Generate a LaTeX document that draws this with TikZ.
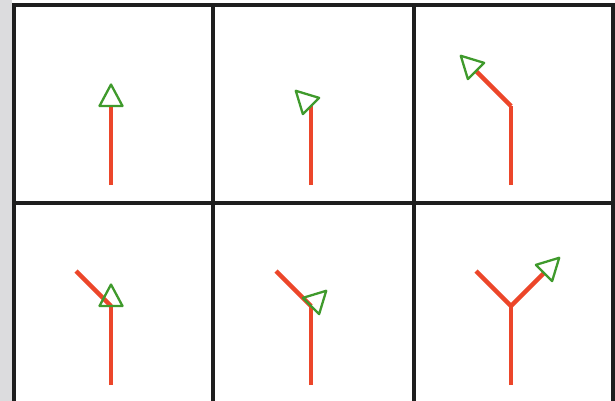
\documentclass[tikz,border=0pt]{standalone}
\usepackage{tikz}
\usetikzlibrary{calc}
\definecolor{trailred}{HTML}{EC462A}
\definecolor{turtlegreen}{HTML}{3F9A2C}
\definecolor{gridink}{HTML}{1E1E1E}
\definecolor{scangray}{HTML}{DCDCDE}

\begin{document}
\begin{tikzpicture}[
      x=1pt,y=-1pt,
      grid/.style={draw=gridink,line width=3.2pt},
      stem/.style={draw=trailred,line width=3.2pt},
      limb/.style={draw=trailred,line width=4.4pt},
      turtle/.pic={\draw[turtlegreen,line width=2.3pt,line join=round] (-11.5,0)--(0,-21.5)--(11.5,0)--cycle;}
    ]
    \useasboundingbox (0,0) rectangle (615,401);
    \fill[white] (0,0) rectangle (615,401);
    \fill[scangray] (0,0) rectangle (12,401);
    % panel frame
    \draw[grid] (14,401)--(14,5)--(613,5)--(613,401);
    \draw[grid] (14,203)--(613,203);
    \draw[grid] (213,5)--(213,401);
    \draw[grid] (414,5)--(414,401);
    % stems
    \foreach \i/\x/\y in {1/111/185,2/311/185,3/511/185,4/111/385,5/311/385,6/511/385}{
      \coordinate (foot\i) at (\x,\y);
      \coordinate (fork\i) at (\x,\y-79);
      \draw[stem] (foot\i)--(fork\i);
    }
    % branches
    \coordinate (tip3) at ($(fork3)+(-35,-35)$);
    \coordinate (tip4) at ($(fork4)+(-35,-35)$);
    \coordinate (tip5) at ($(fork5)+(-35,-35)$);
    \coordinate (tip6) at ($(fork6)+(-35,-35)$);
    \coordinate (twig6) at ($(fork6)+(33,-33)$);
    \draw[limb] (fork3)--(tip3);
    \draw[limb] (tip4)--(fork4);
    \draw[limb] (tip5)--(fork5);
    \draw[limb] (tip6)--(fork6)--(twig6);
    % turtles
    \pic at (fork1) {turtle};
    \pic[rotate=45] at (fork2) {turtle};
    \pic[rotate=45] at (tip3) {turtle};
    \pic at (fork4) {turtle};
    \pic[rotate=-45] at (fork5) {turtle};
    \pic[rotate=-45] at (twig6) {turtle};
  \end{tikzpicture}
\end{document}
